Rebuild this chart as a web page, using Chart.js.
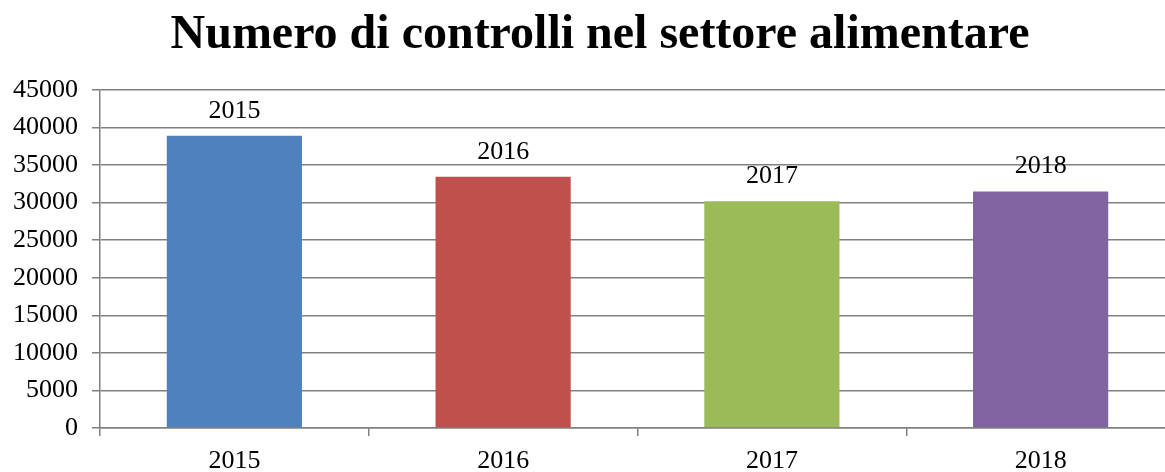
<!DOCTYPE html>
<html>
<head>
<meta charset="utf-8">
<script src="https://cdn.jsdelivr.net/npm/chart.js@4.4.1/dist/chart.umd.min.js"></script>
<style>
html,body{margin:0;padding:0;background:#fff;overflow:hidden;}
#wrap{width:1200px;height:472px;position:relative;}
</style>
</head>
<body>
<div id="wrap"><canvas id="c" width="1200" height="472"></canvas></div>
<script>
const titleText = "Numero di controlli nel settore alimentare";
const categories = ["2015", "2016", "2017", "2018"];
const values = [38900, 33450, 30200, 31500];
const barColors = ["#4F81BD", "#C0504D", "#9BBB59", "#8064A2"];
const yTicks = [0, 5000, 10000, 15000, 20000, 25000, 30000, 35000, 40000, 45000];

const FONT = "'Liberation Serif', 'Times New Roman', serif";

const titlePlugin = {
  id: 'customTitle',
  afterDraw(chart) {
    const ctx = chart.ctx;
    ctx.save();
    ctx.font = "bold 48px " + FONT;
    ctx.fillStyle = "#000";
    ctx.textAlign = "center";
    ctx.textBaseline = "alphabetic";
    ctx.fillText(titleText, 600, 48);
    ctx.restore();
  }
};

const labelPlugin = {
  id: 'barLabels',
  afterDatasetsDraw(chart) {
    const ctx = chart.ctx;
    const meta = chart.getDatasetMeta(0);
    ctx.save();
    ctx.font = "26px " + FONT;
    ctx.fillStyle = "#000";
    ctx.textAlign = "center";
    ctx.textBaseline = "alphabetic";
    meta.data.forEach((bar, i) => {
      ctx.fillText(categories[i], bar.x, bar.y - 18);
    });
    ctx.restore();
  }
};

new Chart(document.getElementById('c'), {
  type: 'bar',
  data: {
    labels: categories,
    datasets: [{
      data: values,
      backgroundColor: barColors,
      borderWidth: 0,
      categoryPercentage: 1,
      barPercentage: 0.503
    }]
  },
  options: {
    responsive: false,
    animation: false,
    events: [],
    layout: { padding: { left: 0, right: 25, top: 90, bottom: 0 } },
    plugins: {
      legend: { display: false },
      title: { display: false },
      tooltip: { enabled: false }
    },
    scales: {
      x: {
        offset: true,
        grid: {
          offset: true,
          drawOnChartArea: false,
          drawTicks: true,
          tickLength: 8,
          color: "#808080",
          lineWidth: 1.5
        },
        border: { color: "#808080", width: 1.5 },
        ticks: {
          font: { family: FONT, size: 26 },
          color: "#000",
          padding: 10,
          maxRotation: 0
        },
        afterFit(scale) { scale.height = 44; }
      },
      y: {
        min: 0,
        max: 45000,
        afterBuildTicks(scale) { scale.ticks = yTicks.map(v => ({ value: v })); },
        grid: {
          color: "#808080",
          lineWidth: 1.5,
          tickLength: 8
        },
        border: { color: "#808080", width: 1.5 },
        ticks: {
          font: { family: FONT, size: 26 },
          color: "#000",
          padding: 14,
          callback: v => String(v)
        },
        afterFit(scale) { scale.width = 100; }
      }
    }
  },
  plugins: [titlePlugin, labelPlugin]
});
</script>
</body>
</html>
